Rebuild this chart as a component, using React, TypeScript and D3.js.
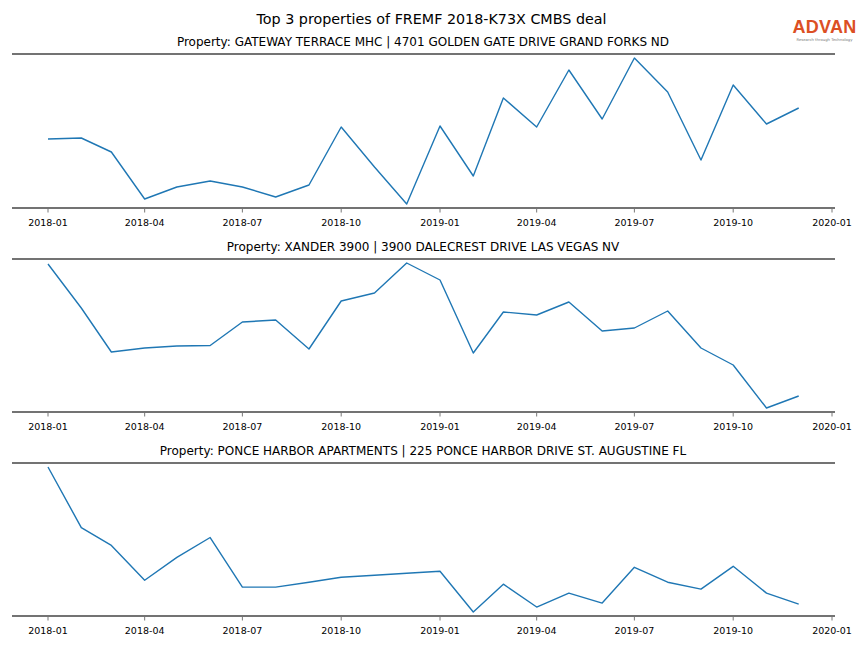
import React from "react";
import * as d3 from "d3";

const months: string[] = [
  "2018-01","2018-02","2018-03","2018-04","2018-05","2018-06","2018-07","2018-08","2018-09","2018-10","2018-11","2018-12",
  "2019-01","2019-02","2019-03","2019-04","2019-05","2019-06","2019-07","2019-08","2019-09","2019-10","2019-11","2019-12",
];
const tickLabels: string[] = ["2018-01","2018-04","2018-07","2018-10","2019-01","2019-04","2019-07","2019-10","2020-01"];

const gatewayValues = [111,112,98,51,63,69,63,53,65,123,83,46,124,74,152,123,180,131,192,158,90,165,126,142];
const xanderValues = [186,142,98,102,104,104.5,128,130,101,149,157,187,170,97,138,135,148,119,122,139,102,85,42,54];
const ponceValues = [183,122,104,69,92,112,62,62,67,72,74,76,78,37,65,42,56,46,82,67,60,83,56,45];

const panelTitles = [
  "Property: GATEWAY TERRACE MHC | 4701 GOLDEN GATE DRIVE GRAND FORKS ND",
  "Property: XANDER 3900 | 3900 DALECREST DRIVE LAS VEGAS NV",
  "Property: PONCE HARBOR APARTMENTS | 225 PONCE HARBOR DRIVE ST. AUGUSTINE FL",
];
const mainTitle = "Top 3 properties of FREMF 2018-K73X CMBS deal";

const parse = d3.timeParse("%Y-%m");

export default function App() {
  const W = 864, H = 648;
  const left = 12, right = 835;
  const panels = [
    { top: 54, bottom: 208, values: gatewayValues, title: panelTitles[0] },
    { top: 259, bottom: 412, values: xanderValues, title: panelTitles[1] },
    { top: 463, bottom: 616, values: ponceValues, title: panelTitles[2] },
  ];
  const x = d3.scaleTime()
    .domain([parse("2018-01")!, parse("2020-01")!])
    .range([48, 832]);
  const font = "DejaVu Sans, sans-serif";
  return (
    <svg width={W} height={H} style={{ position: "absolute", left: 0, top: 0 }} fontFamily={font}>
      <rect width={W} height={H} fill="#fff" />
      <text x={431.5} y={24} textAnchor="middle" fontSize={14.3} fill="#000">{mainTitle}</text>
      <g>
        <text x={824.5} y={33} textAnchor="middle" fontSize={18} fill="#dc4f24" fontWeight="bold" fontFamily="Liberation Sans, Arial, sans-serif" letterSpacing={0.3}>ADVAN</text>
        <text x={824.5} y={40.5} textAnchor="middle" fontSize={3.8} fill="#777">Research through Technology</text>
      </g>
      {panels.map((p, i) => {
        const vals = p.values;
        const mn = d3.min(vals)!, mx = d3.max(vals)!;
        const y = d3.scaleLinear().domain([mn, mx]).range([p.bottom - 4, p.top + 4]);
        const line = d3.line<number>()
          .x((_, j) => x(parse(months[j])!))
          .y((v) => y(v));
        return (
          <g key={i}>
            <text x={423} y={p.top - 8} textAnchor="middle" fontSize={12} fill="#000">{p.title}</text>
            <path d={line(vals) || ""} fill="none" stroke="#1f77b4" strokeWidth={1.4} strokeLinejoin="round" />
            <line x1={left} x2={right} y1={p.top} y2={p.top} stroke="#444" strokeWidth={1.6} />
            <line x1={left} x2={right} y1={p.bottom} y2={p.bottom} stroke="#444" strokeWidth={1.6} />
            {tickLabels.map((t) => {
              const tx = x(parse(t)!);
              return (
                <g key={t}>
                  <line x1={tx} x2={tx} y1={p.bottom + 1} y2={p.bottom + 4.5} stroke="#555" strokeWidth={0.8} />
                  <text x={tx} y={p.bottom + 18} textAnchor="middle" fontSize={9.5} fill="#000">{t}</text>
                </g>
              );
            })}
          </g>
        );
      })}
    </svg>
  );
}
